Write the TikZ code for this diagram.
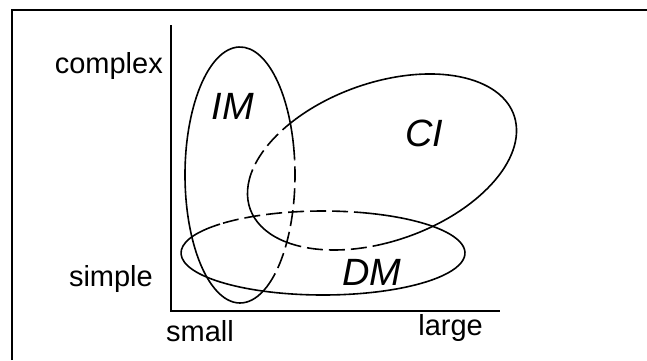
\documentclass[tikz,border=0pt]{standalone}
\usepackage{fontspec}
\setmainfont{Liberation Sans}

\begin{document}
\begin{tikzpicture}[
    x=1pt, y=1pt,
    frame/.style={
        line width=2pt
    },
    axis/.style={
        line width=1.6pt
    },
    ring/.style={
        line width=1.6pt
    },
    hidden/.style={
        ring,
        dash pattern=on 16pt off 6pt
    },
    scalelabel/.style={
        inner sep=0pt,
        font=\fontsize{29}{34}\selectfont
    },
    setlabel/.style={
        inner sep=0pt,
        font=\itshape\fontsize{38}{44}\selectfont
    }
]

\useasboundingbox (0,0) rectangle (647,360);

\draw[frame] (12,0) -- (12,350) -- (647,350);

% axes
\coordinate (ytop) at (171,335);
\coordinate (origin) at (171,49);
\coordinate (xend) at (500,49);
\draw[axis] (ytop) -- (origin) -- (xend);

\node[scalelabel, anchor=base east] (complex) at (163,287) {complex};
\node[scalelabel, anchor=base east] (simple) at (153,74) {simple};
\node[scalelabel, anchor=base west] (small) at (166,19) {small};
\node[scalelabel, anchor=base east] (large) at (483,25) {large};

% IM
\draw[ring, shift={(240,185)}]
    (7:55 and 128) arc[start angle=7, end angle=299, x radius=55, y radius=128];
\draw[hidden, shift={(240,185)}]
    (-61:55 and 128) arc[start angle=-61, end angle=7, x radius=55, y radius=128];

% CI
\draw[ring, shift={(382,198)}, rotate=19.6]
    (260:140 and 79) arc[start angle=260, end angle=479, x radius=140, y radius=79];
\draw[ring, shift={(382,198)}, rotate=19.6]
    (155:140 and 79) arc[start angle=155, end angle=213, x radius=140, y radius=79];
\draw[hidden, shift={(382,198)}, rotate=19.6]
    (119:140 and 79) arc[start angle=119, end angle=155, x radius=140, y radius=79];
\draw[hidden, shift={(382,198)}, rotate=19.6]
    (213:140 and 79) arc[start angle=213, end angle=260, x radius=140, y radius=79];

% DM
\draw[ring, shift={(323,107)}]
    (136.5:142 and 42) arc[start angle=136.5, end angle=430.7, x radius=142, y radius=42];
\draw[hidden, shift={(323,107)}]
    (70.7:142 and 42) arc[start angle=70.7, end angle=136.5, x radius=142, y radius=42];

\node[setlabel] (im) at (233,254) {IM};
\node[setlabel] (ci) at (424,227) {CI};
\node[setlabel] (dm) at (372,88) {DM};

\end{tikzpicture}
\end{document}
